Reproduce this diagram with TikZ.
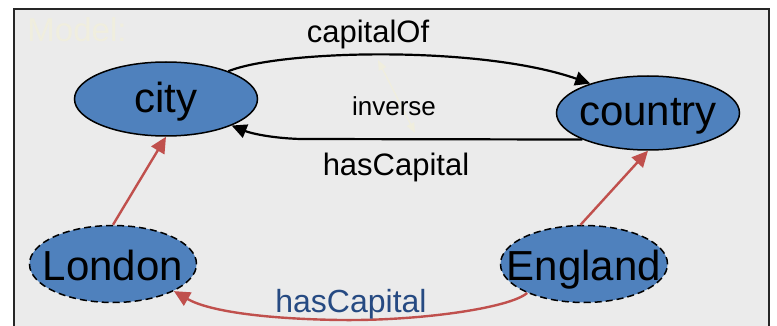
\documentclass[tikz,border=0pt]{standalone}
\usepackage{fontspec}
\setmainfont{Liberation Sans}
\usetikzlibrary{shapes.geometric,arrows.meta}
\definecolor{bg}{RGB}{235,235,235}
\definecolor{ellfill}{RGB}{79,129,189}
\definecolor{redarrow}{RGB}{192,80,77}
\definecolor{darkblue}{RGB}{38,74,130}
\definecolor{faint}{RGB}{240,238,222}
\newcommand{\ntext}[2]{\makebox[0pt]{\raisebox{-#1}[0pt][0pt]{#2}}}
\tikzset{
  classnode/.style={ellipse, draw=black, line width=1.5pt, fill=ellfill, inner sep=0pt,
    minimum width=183pt, minimum height=74pt, font=\fontsize{42}{48}\selectfont},
  instnode/.style={classnode, dashed, dash pattern=on 7pt off 4pt, minimum width=167pt, minimum height=77pt},
  blackarrow/.style={line width=2.2pt, -{Triangle[length=15pt,width=14pt]}},
  redarr/.style={line width=2.4pt, draw=redarrow, -{Triangle[length=16pt,width=15pt]}},
  lbl/.style={inner sep=0pt, anchor=base, font=\fontsize{31}{36}\selectfont},
}
\begin{document}
\begin{tikzpicture}[x=1pt,y=-1pt]
\useasboundingbox (0,0) rectangle (777,326);
\fill[white] (0,0) rectangle (777,326);
\fill[bg] (14,9) rectangle (769,340);
\draw[line width=2pt, black!85] (14,340) -- (14,9) -- (769,9) -- (769,340);
\node[inner sep=0pt, text=faint, font=\fontsize{33}{38}\selectfont] (model) at (77,30) {Model:};
\node[classnode] (city) at (166,99) {\ntext{14pt}{city}};
\node[classnode] (country) at (648,113) {\ntext{12.5pt}{country}};
\node[instnode] (london) at (113,264) {\ntext{17pt}{London}};
\node[instnode] (england) at (584,264) {\ntext{16pt}{England}};
% inverse faint double arrow
\coordinate (invA) at (378,60);
\coordinate (invB) at (415,133);
\draw[faint, line width=1.4pt, {Triangle[length=10pt,width=8pt]}-{Triangle[length=10pt,width=8pt]}] (invA) -- (invB);
% capitalOf
\draw[blackarrow] (city.24) .. controls (280,50) and (480,45) .. (country.153);
\node[lbl] (capof) at (368,43) {capitalOf};
% hasCapital black
\draw[blackarrow] (country.-158) -- (300,139) .. controls (270,138) and (250,133) .. (city.-22);
\node[lbl] (hascap) at (396,176) {hasCapital};
\node[inner sep=0pt, font=\fontsize{26}{30}\selectfont] (inv) at (394,106) {inverse};
% red instance-of arrows
\draw[redarr] (london.90) -- (city.-90);
\draw[redarr] (england.95) -- (country.-90);
% red hasCapital
\draw[redarr] (england.-153) .. controls (510,308) and (420,321) .. (340,320) .. controls (270,319) and (210,312) .. (london.-24);
\node[lbl, text=darkblue, font=\fontsize{32}{36}\selectfont] (hascap2) at (351,312) {hasCapital};
\end{tikzpicture}
\end{document}
